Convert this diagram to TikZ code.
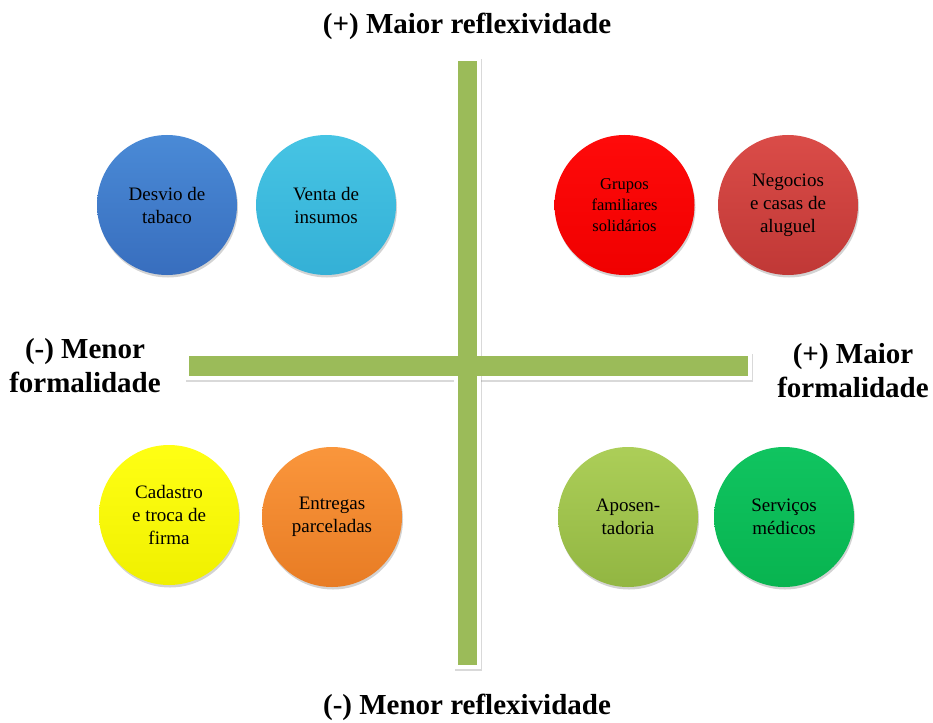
\documentclass[tikz,border=0pt]{standalone}
\usepackage{fontspec}
\setmainfont{Liberation Serif}
\usetikzlibrary{shadows}
\definecolor{barg}{HTML}{9BBB59}
\begin{document}
\begin{tikzpicture}[x=1pt,y=-1pt,
  ball/.style={circle, minimum size=140pt, inner sep=0pt, align=center,
    font=\fontsize{19}{23}\selectfont,
    drop shadow={opacity=0.35, shadow xshift=1pt, shadow yshift=-2.5pt}},
  barframe/.style={rectangle, fill=white, inner sep=0pt,
    drop shadow={opacity=0.3, shadow xshift=1pt, shadow yshift=-2pt}},
  barfill/.style={rectangle, fill=barg, inner sep=0pt},
  axislabel/.style={align=center, font=\bfseries\fontsize{29}{34}\selectfont}]
\useasboundingbox (0,0) rectangle (933,722);
% bars
\node[barframe, minimum width=567pt, minimum height=28pt] (hframe) at (468.5,366) {};
\node[barframe, minimum width=27pt, minimum height=612pt] (vframe) at (467.5,363) {};
\node[barfill, minimum width=559pt, minimum height=20pt] (hbar) at (468.5,366) {};
\node[barfill, minimum width=19pt, minimum height=604pt] (vbar) at (467.5,363) {};
% circles
\node[ball, top color={rgb,255:red,74;green,138;blue,214}, bottom color={rgb,255:red,56;green,110;blue,190}] (c1) at (167,205) {Desvio de\\tabaco};
\node[ball, top color={rgb,255:red,70;green,196;blue,228}, bottom color={rgb,255:red,52;green,176;blue,214}] (c2) at (326,205) {Venta de\\insumos};
\node[ball, top color={rgb,255:red,255;green,10;blue,10}, bottom color={rgb,255:red,240;green,0;blue,0}, font=\fontsize{16.5}{21}\selectfont] (c3) at (624.5,205) {Grupos\\familiares\\solidários};
\node[ball, top color={rgb,255:red,218;green,76;blue,72}, bottom color={rgb,255:red,192;green,56;blue,54}] (c4) at (788,205) {Negocios\\e casas de\\aluguel};
\node[ball, top color={rgb,255:red,255;green,255;blue,20}, bottom color={rgb,255:red,240;green,240;blue,0}] (c5) at (169,515) {Cadastro\\e troca de\\firma};
\node[ball, top color={rgb,255:red,250;green,150;blue,60}, bottom color={rgb,255:red,232;green,124;blue,36}] (c6) at (332,517) {Entregas\\parceladas};
\node[ball, top color={rgb,255:red,172;green,206;blue,88}, bottom color={rgb,255:red,146;green,182;blue,66}] (c7) at (628,517) {Aposen-\\tadoria};
\node[ball, top color={rgb,255:red,16;green,196;blue,96}, bottom color={rgb,255:red,8;green,180;blue,80}] (c8) at (784,517) {Serviços\\médicos};
% axis labels
\node[axislabel] (top) at (467,26) {(+) Maior reflexividade};
\node[axislabel] (bottom) at (467,707) {(-) Menor reflexividade};
\node[axislabel] (left) at (85,366) {(-) Menor\\formalidade};
\node[axislabel] (right) at (853,371) {(+) Maior\\formalidade};
\end{tikzpicture}
\end{document}
